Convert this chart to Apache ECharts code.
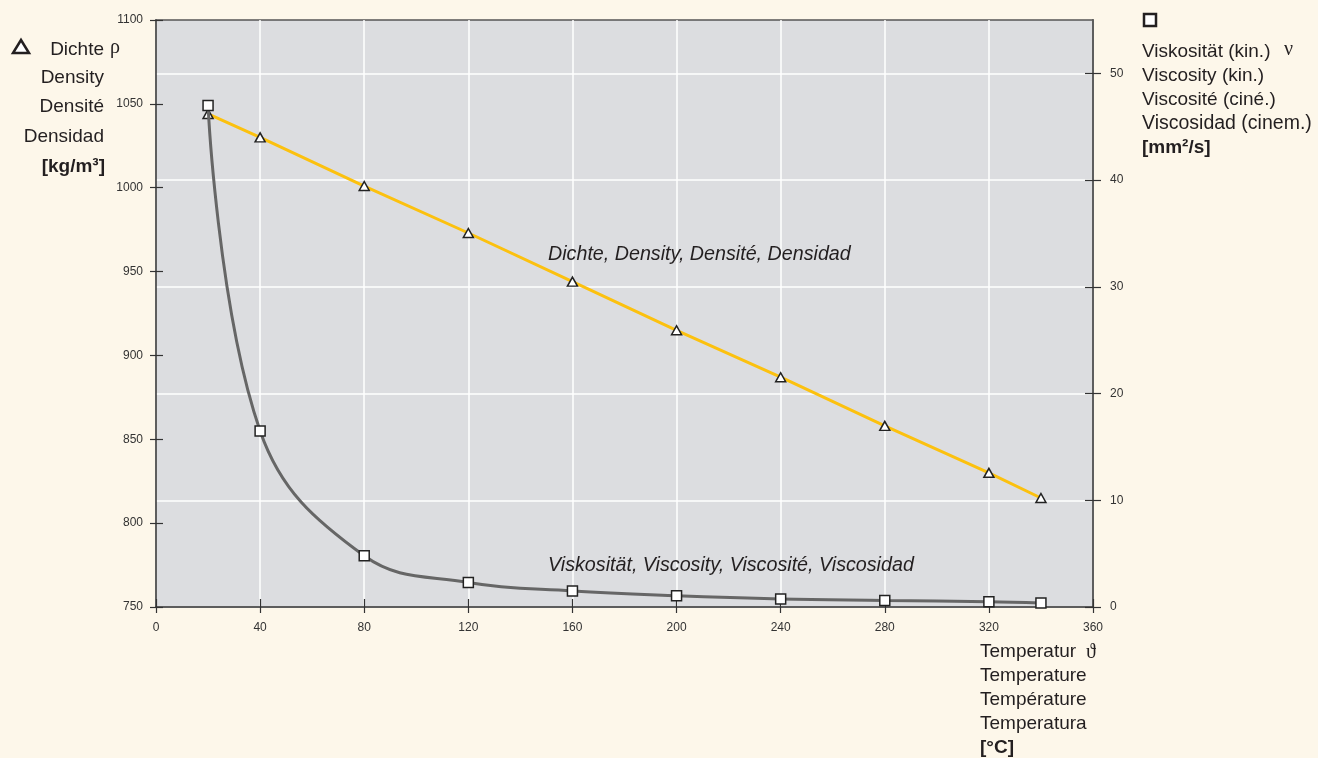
<!DOCTYPE html>
<html>
<head>
<meta charset="utf-8">
<script src="https://cdn.jsdelivr.net/npm/echarts@6/dist/echarts.min.js"></script>
<style>
    * { margin: 0; padding: 0; }
    body { background: #fdf7ea; }
    #chart { width: 1318px; height: 758px; }
</style>
</head>
<body>
<div id="chart"></div>
<script>
    // Messwerte: Temperatur [°C], Dichte [kg/m3], Viskosität [mm2/s]
    const temps = [20, 40, 80, 120, 160, 200, 240, 280, 320, 340];
    const density = [1044, 1030, 1001, 973, 944, 915, 887, 858, 830, 815];
    const viscosity = [47, 16.5, 4.8, 2.3, 1.5, 1.05, 0.75, 0.62, 0.5, 0.38];
    const viscTicks = [0, 10, 20, 30, 40, 50];

    const font = "'Liberation Sans', Arial, sans-serif";
    const serif = "'Liberation Serif', 'DejaVu Serif', serif";
    const ink = '#231f20';

    const axisLine = { show: true, lineStyle: { color: '#333', width: 1.5 } };
    const tickStyle = { color: '#333', width: 1.2 };

    // kleine Hilfsfunktion für die Beschriftungen
    function label(x, y, text, align, fnt) {
        return {
            type: 'text', z: 10,
            style: { x: x, y: y, align: align, verticalAlign: 'middle', text: text, font: fnt, fill: ink }
        };
    }

    let myChart = echarts.init(document.getElementById('chart'));

    let option = {
        backgroundColor: '#fdf7ea',
        animation: false,
        textStyle: { fontFamily: font, color: ink },
        grid: {
            left: 156, top: 20, right: 225, bottom: 151,
            show: true,
            backgroundColor: '#dcdde0',
            borderColor: '#555',
            borderWidth: 1.5
        },
        xAxis: [
            {
                type: 'value', min: 0, max: 360, interval: 40, position: 'bottom',
                axisLine: axisLine,
                axisTick: { show: true, length: 6, lineStyle: tickStyle },
                axisLabel: { fontSize: 12, color: '#333', margin: 15, fontFamily: font },
                splitLine: { show: true, lineStyle: { color: '#fff', width: 1.5 } }
            },
            {
                type: 'value', min: 0, max: 360, interval: 40, position: 'bottom',
                axisLine: { show: false },
                axisTick: { show: true, inside: true, length: 8, lineStyle: tickStyle },
                axisLabel: { show: false },
                splitLine: { show: false }
            }
        ],
        yAxis: [
            {
                type: 'value', min: 750, max: 1100, interval: 50, position: 'left',
                axisLine: axisLine,
                axisTick: { show: true, length: 6, lineStyle: tickStyle },
                axisLabel: { fontSize: 12, color: '#333', margin: 13, fontFamily: font,
                    formatter: v => String(v) },
                splitLine: { show: false }
            },
            {
                type: 'value', min: 750, max: 1100, interval: 50, position: 'left',
                axisLine: { show: false },
                axisTick: { show: true, inside: true, length: 7, lineStyle: tickStyle },
                axisLabel: { show: false },
                splitLine: { show: false }
            },
            {
                type: 'value', min: 0, max: 55, interval: 10, position: 'right',
                axisLine: axisLine,
                axisTick: { show: true, length: 8, lineStyle: tickStyle, customValues: viscTicks },
                axisLabel: { fontSize: 12, color: '#333', margin: 17, fontFamily: font,
                    padding: [0, 0, 8, 0], customValues: viscTicks },
                splitLine: { show: true, lineStyle: { color: '#fff', width: 1.5 } }
            },
            {
                type: 'value', min: 0, max: 55, interval: 10, position: 'right',
                axisLine: { show: false },
                axisTick: { show: true, inside: true, length: 8, lineStyle: tickStyle, customValues: viscTicks },
                axisLabel: { show: false },
                splitLine: { show: false }
            }
        ],
        series: [
            {
                name: 'Dichte',
                type: 'line',
                xAxisIndex: 0,
                yAxisIndex: 0,
                data: temps.map((t, i) => [t, density[i]]),
                lineStyle: { color: '#fcc10f', width: 3 },
                symbol: 'triangle',
                symbolSize: [10, 9],
                itemStyle: { color: '#fff', borderColor: '#222', borderWidth: 1.5 },
                z: 3
            },
            {
                name: 'Viskosität',
                type: 'line',
                xAxisIndex: 0,
                yAxisIndex: 2,
                smooth: 0.4,
                data: temps.map((t, i) => [t, viscosity[i]]),
                lineStyle: { color: '#666', width: 3 },
                symbol: 'rect',
                symbolSize: 10,
                itemStyle: { color: '#fff', borderColor: '#222', borderWidth: 1.5 },
                z: 4
            }
        ],
        graphic: [
            // Legende links (Dichte)
            {
                type: 'polygon',
                shape: { points: [[21, 40], [13, 53], [29, 53]] },
                style: { fill: '#fff', stroke: ink, lineWidth: 2.5 }
            },
            label(104, 50, 'Dichte', 'right', '19px ' + font),
            label(110, 48, 'ρ', 'left', '20px ' + serif),
            label(104, 78, 'Density', 'right', '19px ' + font),
            label(104, 107, 'Densité', 'right', '19px ' + font),
            label(104, 137, 'Densidad', 'right', '19px ' + font),
            label(105, 167, '[kg/m³]', 'right', 'bold 19px ' + font),
            // Legende rechts (Viskosität)
            {
                type: 'rect',
                shape: { x: 1144, y: 14, width: 12, height: 12 },
                style: { fill: '#fff', stroke: ink, lineWidth: 2.5 }
            },
            label(1142, 52, 'Viskosität (kin.)', 'left', '19px ' + font),
            label(1284, 50, 'ν', 'left', '20px ' + serif),
            label(1142, 76, 'Viscosity (kin.)', 'left', '19px ' + font),
            label(1142, 100, 'Viscosité (ciné.)', 'left', '19px ' + font),
            label(1142, 124, 'Viscosidad (cinem.)', 'left', '19.5px ' + font),
            label(1142, 148, '[mm²/s]', 'left', 'bold 19px ' + font),
            // x-Achsentitel
            label(980, 652, 'Temperatur', 'left', '19px ' + font),
            label(1086, 653, 'ϑ', 'left', '20px ' + serif),
            label(980, 676, 'Temperature', 'left', '19px ' + font),
            label(980, 700, 'Température', 'left', '19px ' + font),
            label(980, 724, 'Temperatura', 'left', '19px ' + font),
            label(980, 748, '[°C]', 'left', 'bold 19px ' + font),
            // Kurvenbeschriftungen
            label(548, 255, 'Dichte, Density, Densité, Densidad', 'left', 'italic 19.7px ' + font),
            label(548, 566, 'Viskosität, Viscosity, Viscosité, Viscosidad', 'left', 'italic 19.7px ' + font)
        ]
    };

    myChart.setOption(option);
</script>
</body>
</html>
